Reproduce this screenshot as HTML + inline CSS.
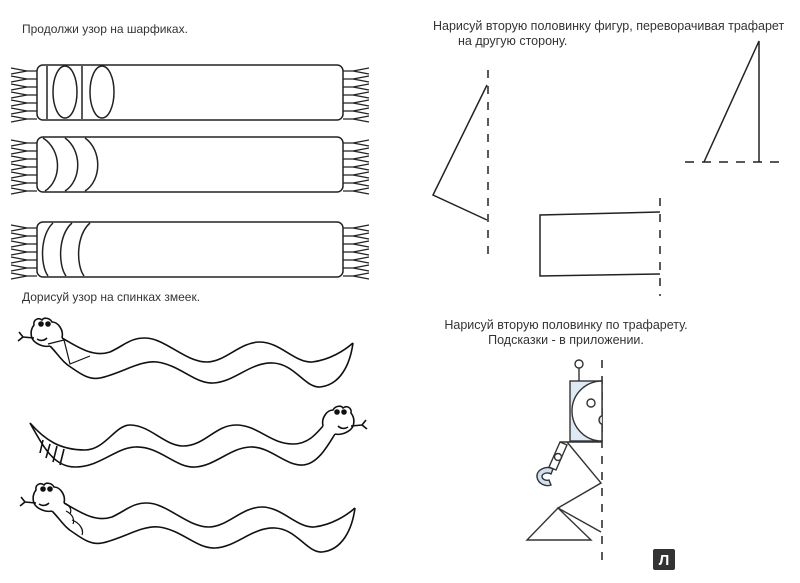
<!DOCTYPE html>
<html><head><meta charset="utf-8"><style>
html,body{margin:0;padding:0;background:#fff;}
svg{display:block}
text{font-family:"Liberation Sans",sans-serif;font-size:12px;fill:#333}
</style></head><body>
<svg width="800" height="583" viewBox="0 0 800 583" xmlns="http://www.w3.org/2000/svg">
<defs>
<g id="frL" stroke="#222" stroke-width="1.3" fill="none">
<path d="M37,3 L27,3 L11,0 M27,3 L11,6 M37,11 L27,11 L11,8 M27,11 L11,14 M37,19 L27,19 L11,16 M27,19 L11,22 M37,27 L27,27 L11,24 M27,27 L11,30 M37,35 L27,35 L11,32 M27,35 L11,38 M37,43 L27,43 L11,40 M27,43 L11,46 M37,51 L27,51 L11,48 M27,51 L11,54"/>
</g>
<g id="head" stroke="#111" stroke-width="1.6" fill="none">
<path d="M62,338 C64,330 58,322 52,322 C50,318 44,317 42,320 C38,317 33,320 34,325 C30,330 30,338 35,342 C40,346 46,347 50,346" fill="#fff"/>
<circle cx="41" cy="324" r="2" fill="#111"/><circle cx="48" cy="324" r="2" fill="#111"/>
<path d="M37,339 C40,341 44,341 47,338"/>
<path d="M34,338 L23,337 L19,332 M23,337 L18,341"/>
</g>
<g id="snake" stroke="#111" stroke-width="1.6" fill="none">
<path d="M62,338 C75,345 92,358 110,352 C125,345 130,338 145,338 C165,338 185,362 207,362 C225,362 240,342 260,342 C280,342 295,363 312,362 C330,360 345,350 353,343"/>
<path d="M50,346 C58,354 62,362 72,368 C82,375 90,380 100,378 C120,374 140,360 157,362 C180,365 195,384 213,383 C235,382 250,362 273,363 C295,364 305,388 320,387 C340,385 350,365 353,343"/>
</g>
</defs>

<text x="22" y="33">Продолжи узор на шарфиках.</text>
<text x="22" y="301">Дорисуй узор на спинках змеек.</text>
<text x="433" y="30" style="font-size:12.5px">Нарисуй вторую половинку фигур, переворачивая трафарет</text>
<text x="458" y="45" style="font-size:12.5px">на другую сторону.</text>
<text x="566" y="329" text-anchor="middle" style="font-size:12.5px">Нарисуй вторую половинку по трафарету.</text>
<text x="566" y="344" text-anchor="middle" style="font-size:12.5px">Подсказки - в приложении.</text>

<!-- scarves -->
<g stroke="#222" stroke-width="1.5" fill="none">
<rect x="37" y="65" width="306" height="55" rx="6"/>
<line x1="47" y1="66" x2="47" y2="119"/><line x1="82" y1="66" x2="82" y2="119"/>
<ellipse cx="65" cy="92" rx="12" ry="26"/><ellipse cx="102" cy="92" rx="12" ry="26"/>
<rect x="37" y="137" width="306" height="55" rx="6"/>
<path d="M43,138 C62,150 62,180 45,191 M65,138 C82,150 82,180 65,191 M85,138 C102,150 102,180 85,191"/>
<rect x="37" y="222" width="306" height="55" rx="6"/>
<path d="M53,223 C40,235 40,265 48,276 M72,223 C58,235 58,265 66,276 M90,223 C76,235 76,265 84,276"/>
</g>
<use href="#frL" x="0" y="68"/><use href="#frL" x="0" y="140"/><use href="#frL" x="0" y="225"/>
<use href="#frL" transform="translate(380,68) scale(-1,1)"/>
<use href="#frL" transform="translate(380,140) scale(-1,1)"/>
<use href="#frL" transform="translate(380,225) scale(-1,1)"/>

<!-- snake 1 -->
<use href="#snake"/><use href="#head"/>
<g stroke="#111" stroke-width="1.2" fill="none"><path d="M48,344 L64,340 L70,364 L90,356"/></g>
<!-- snake 3 -->
<use href="#snake" transform="translate(2,165)"/><use href="#head" transform="translate(2,165)"/>
<g stroke="#111" stroke-width="1.2" fill="none"><path d="M64,503 C70,505 72,510 70,514 M66,511 C72,514 75,519 73,524 M72,520 C80,523 84,530 82,535"/></g>
<!-- snake 2 -->
<g stroke="#111" stroke-width="1.6" fill="none">
<path d="M30,423 C45,440 60,450 85,450 C105,450 115,425 130,425 C150,425 165,446 183,446 C205,446 215,425 236,425 C258,425 270,444 293,444 C308,444 316,434 323,426"/>
<path d="M30,423 C45,450 55,467 75,467 C100,467 115,448 135,447 C160,446 175,468 195,467 C215,466 230,448 250,447 C270,446 285,466 303,465 C318,464 328,445 335,434"/>
<path d="M43,440 L40,453 M50,444 L46,458 M57,446 L53,462 M64,449 L60,465"/>
</g>
<use href="#head" transform="translate(385,88) scale(-1,1)"/>

<!-- mirror figures -->
<g stroke="#222" stroke-width="1.5" fill="none">
<line x1="488" y1="70" x2="488" y2="262" stroke-dasharray="8,8"/>
<path d="M487,85 L433,195 L487,220"/>
<path d="M704,162 L759,41 L759,162"/>
<line x1="685" y1="162" x2="780" y2="162" stroke-dasharray="9,8"/>
<path d="M660,212 L540,215 L540,276 L660,274"/>
<line x1="660" y1="198" x2="660" y2="296" stroke-dasharray="8,8"/>
<line x1="602" y1="360" x2="602" y2="564" stroke-dasharray="8,8"/>
</g>

<!-- robot -->
<g stroke="#333" stroke-width="1.4" fill="none">
<rect x="570" y="381" width="32" height="60" fill="#dde9f5"/>
<path d="M602,381 A30,30 0 0 0 602,441 Z" fill="#fff"/>
<line x1="579" y1="368" x2="579" y2="381"/>
<circle cx="579" cy="364" r="4" fill="#fff"/>
<circle cx="591" cy="403" r="4" fill="#fff"/>
<path d="M602,416 A3,4 0 0 0 602,424" fill="#d0e0f0"/>
<path d="M560,442 L602,442 M567,442 L601,483 L558,508 L601,532"/>
<path d="M558,508 L527,540 L591,540 Z"/>
<path d="M560,442 L567,445 L556,470 L549,467 Z" fill="#fff"/>
<circle cx="558" cy="457" r="3.5"/>
<path d="M553,469 C546,465 536,470 537,477 C538,484 546,487 551,485 L549,480 C545,481 542,479 542,476 C543,473 548,472 551,474 Z" fill="#cfe0f2"/>
</g>

<!-- logo -->
<rect x="653" y="549" width="22" height="21" rx="2" fill="#333"/>
<text x="664" y="565" text-anchor="middle" style="font-size:15px;font-weight:bold;fill:#fff">Л</text>
</svg>
</body></html>
